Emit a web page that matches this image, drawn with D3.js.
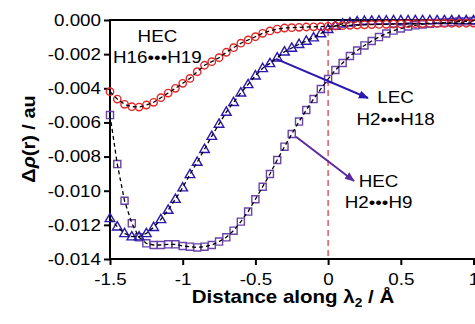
<!DOCTYPE html>
<html><head><meta charset="utf-8">
<script src="https://cdn.jsdelivr.net/npm/d3@7"></script>
<style>
html,body{margin:0;padding:0;background:#fff;overflow:hidden;}
svg{display:block;font-family:"Liberation Sans",Arial,sans-serif;}
</style></head>
<body><svg id="c" width="475" height="324"></svg>
<script>
// ---- data ----
const xStart = -1.5, xStep = 0.05;
const hec1619 = [-0.00420,-0.00463,-0.00494,-0.00508,-0.00510,-0.00498,-0.00482,-0.00455,-0.00428,-0.00400,
  -0.00371,-0.00342,-0.00303,-0.00265,-0.00244,-0.00221,-0.00189,-0.00162,-0.00136,-0.00117,
  -0.00098,-0.00078,-0.00064,-0.00053,-0.00047,-0.00045,-0.00043,-0.00041,-0.00040,-0.00039,
  -0.00037,-0.00035,-0.00033,-0.00031,-0.00030,-0.00028,-0.00027,-0.00026,-0.00025,-0.00024,
  -0.00023,-0.00022,-0.00022,-0.00021,-0.00020,-0.00020,-0.00020,-0.00019,-0.00019,-0.00019,-0.00018];
const lec0218 = [-0.01162,-0.01211,-0.01250,-0.01269,-0.01269,-0.01250,-0.01214,-0.01168,-0.01113,-0.01049,
  -0.00982,-0.00904,-0.00832,-0.00757,-0.00680,-0.00609,-0.00539,-0.00482,-0.00426,-0.00377,
  -0.00326,-0.00283,-0.00254,-0.00221,-0.00186,-0.00164,-0.00142,-0.00123,-0.00103,-0.00079,
  -0.00054,-0.00035,-0.00022,-0.00016,-0.00009,-0.00006,-0.00005,-0.00004,-0.00004,-0.00003,
  -0.00003,-0.00003,-0.00002,-0.00002,-0.00002,-0.00002,-0.00002,-0.00002,-0.00002,-0.00002,-0.00002];
const hec0209 = [-0.00557,-0.00844,-0.01059,-0.01191,-0.01273,-0.01308,-0.01318,-0.01318,-0.01314,-0.01314,
  -0.01324,-0.01328,-0.01332,-0.01328,-0.01318,-0.01298,-0.01273,-0.01234,-0.01181,-0.01122,
  -0.01050,-0.00977,-0.00902,-0.00820,-0.00742,-0.00668,-0.00595,-0.00527,-0.00463,-0.00404,
  -0.00346,-0.00293,-0.00252,-0.00211,-0.00179,-0.00149,-0.00123,-0.00100,-0.00079,-0.00062,
  -0.00050,-0.00038,-0.00031,-0.00026,-0.00022,-0.00018,-0.00015,-0.00012,-0.00009,-0.00008,-0.00006];
const yTicks = [0,-0.002,-0.004,-0.006,-0.008,-0.010,-0.012,-0.014];
const yTickLabels = ["0.000","-0.002","-0.004","-0.006","-0.008","-0.010","-0.012","-0.014"];
const xTicks = [-1.5,-1,-0.5,0,0.5,1];
const xTickLabels = ["-1.5","-1","-0.5","0","0.5","1"];
const annotations = [
  {lines:["HEC","H16\u2022\u2022\u2022H19"], x:-1.174, y:[-0.00129,-0.00249]},
  {lines:["LEC","H2\u2022\u2022\u2022H18"], x:0.464, y:[-0.00486,-0.00615]},
  {lines:["HEC","H2\u2022\u2022\u2022H9"], x:0.347, y:[-0.00977,-0.01103]}
];
const arrows = [
  {from:[-0.358,-0.00228], to:[0.274,-0.00457], color:"#2a18b0"},
  {from:[-0.221,-0.00684], to:[0.178,-0.00943], color:"#5a2aa0"}
];

// ---- layout ----
const svg = d3.select("#c");
const mLeft = 110, mTop = 20, mBottom = 259, pxPerUnit = 145.4;
const x = d3.scaleLinear().domain([-1.5,1.5]).range([mLeft, mLeft + 3*pxPerUnit]);
const y = d3.scaleLinear().domain([-0.014,0]).range([mBottom, mTop]);
const SX = 1.14;
const xs = d => d3.range(d.length).map(i => xStart + i*xStep);

// reference line at 0
svg.append("line").attr("x1",x(0)).attr("x2",x(0)).attr("y1",y(0)).attr("y2",y(-0.014))
  .attr("stroke","#e0404a").attr("stroke-width",1.3).attr("stroke-dasharray","6,4");

// top border
svg.append("line").attr("x1",mLeft).attr("x2",475).attr("y1",y(0)).attr("y2",y(0))
  .attr("stroke","#000").attr("stroke-width",2);

// axes
const yAxis = d3.axisLeft(y).tickValues(yTicks).tickSize(6).tickPadding(8)
  .tickFormat((d,i)=>yTickLabels[i]);
const gy = svg.append("g").attr("transform",`translate(${mLeft},0)`).call(yAxis);
const xAxis = d3.axisBottom(x).tickValues(xTicks).tickSize(6).tickPadding(8)
  .tickFormat((d,i)=>xTickLabels[i]);
const gx = svg.append("g").attr("transform",`translate(0,${mBottom})`).call(xAxis);
[gx,gy].forEach(g=>{
  g.select(".domain").remove();
  g.selectAll(".tick line").attr("stroke-width",2);
  g.selectAll(".tick text").attr("font-size",16.5).attr("fill","#000")
   .attr("font-family","Liberation Sans, Arial, sans-serif");
});
gy.selectAll(".tick text").attr("x",-9/SX).attr("transform",`scale(${SX},1)`);
gx.selectAll(".tick text").attr("transform",`scale(${SX},1)`);
svg.append("line").attr("x1",mLeft).attr("x2",mLeft).attr("y1",mTop-1).attr("y2",mBottom+1).attr("stroke","#000").attr("stroke-width",2);
svg.append("line").attr("x1",mLeft-1).attr("x2",475).attr("y1",mBottom).attr("y2",mBottom).attr("stroke","#000").attr("stroke-width",2);

// series
const lineGen = d3.line().x(d=>x(d[0])).y(d=>y(d[1]));
function series(vals, shape, color){
  const pts = xs(vals).map((xx,i)=>[xx, vals[i]]);
  const g = svg.append("g");
  if (shape==="circle"){
    g.selectAll("circle").data(pts).enter().append("circle")
      .attr("cx",d=>x(d[0])).attr("cy",d=>y(d[1])).attr("r",3.7)
      .attr("fill","none").attr("stroke",color).attr("stroke-width",1.4);
  } else {
    const sym = d3.symbol().type(shape==="square"?d3.symbolSquare:d3.symbolTriangle)
      .size(shape==="square"?50:40);
    g.selectAll("path").data(pts).enter().append("path")
      .attr("d",sym).attr("transform",d=>`translate(${x(d[0])},${y(d[1]) + (shape==="triangle"?0.5:0)})`)
      .attr("fill","none").attr("stroke",color).attr("stroke-width",1.4);
  }
  g.append("path").datum(pts).attr("d",lineGen).attr("fill","none")
    .attr("stroke","#000").attr("stroke-width",1.3).attr("stroke-dasharray","4,3");
}
series(hec0209,"square","#6a44a8");
series(lec0218,"triangle","#2a18b0");
series(hec1619,"circle","#e02828");

// arrows
const defs = svg.append("defs");
arrows.forEach((a,i)=>{
  defs.append("marker").attr("id","ah"+i).attr("viewBox","0 0 10 10").attr("refX",9).attr("refY",5)
    .attr("markerWidth",5).attr("markerHeight",5).attr("orient","auto").attr("markerUnits","strokeWidth")
    .append("path").attr("d","M0,1 L10,5 L0,9 Z").attr("fill",a.color);
  svg.append("line").attr("x1",x(a.from[0])).attr("y1",y(a.from[1]))
    .attr("x2",x(a.to[0])).attr("y2",y(a.to[1]))
    .attr("stroke",a.color).attr("stroke-width",2).attr("marker-end",`url(#ah${i})`);
});

// annotations
annotations.forEach(a=>{
  a.lines.forEach((t,j)=>{
    svg.append("text").attr("transform",`translate(${x(a.x)},${y(a.y[j])}) scale(${SX},1)`)
      .attr("text-anchor","middle").attr("font-size",16.5).attr("fill","#000").text(t);
  });
});

// axis titles
const xt = svg.append("text").attr("transform",`translate(293,303) scale(${SX},1)`)
  .attr("text-anchor","middle").attr("font-size",18).attr("font-weight","bold");
xt.append("tspan").text("Distance along \u03bb");
xt.append("tspan").attr("font-size",12).attr("dy",4).text("2");
xt.append("tspan").attr("dy",-4).text(" / \u00c5");

const yt = svg.append("text").attr("transform",`translate(35,139) rotate(-90) scale(${SX},1)`)
  .attr("text-anchor","middle").attr("font-size",17.5).attr("font-weight","bold");
yt.append("tspan").text("\u0394");
yt.append("tspan").attr("font-style","italic").text("\u03c1");
yt.append("tspan").text("(r) / au");
</script></body></html>
